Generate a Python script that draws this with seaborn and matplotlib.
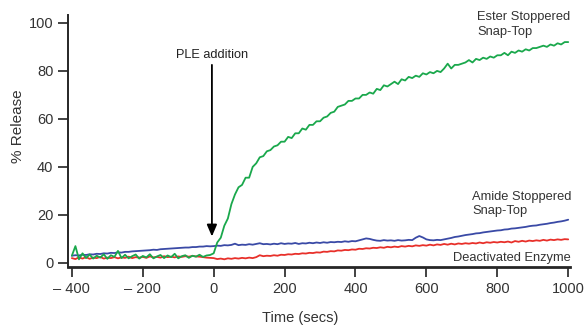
import numpy as np
import pandas as pd
import matplotlib
matplotlib.use("Agg")
import matplotlib.pyplot as plt
import seaborn as sns

time_s = list(range(-400, 1001, 10))

ester = [3.0, 7.0, 1.5, 4.0, 2.0, 3.5, 1.8, 3.0, 2.2, 3.6,
         1.7, 3.2, 2.5, 5.0, 2.0, 3.4, 1.9, 2.8, 3.5, 1.8,
         2.9, 2.3, 3.6, 1.9, 2.7, 3.3, 2.0, 3.1, 2.4, 3.8,
         1.9, 2.8, 3.2, 2.1, 3.0, 2.6, 3.4, 2.5, 3.1, 3.3,
         4.0, 8.5, 10.5, 15.5, 18.5, 24.5, 28.5, 31.5, 32.5, 35.5,
         35.5, 40.0, 41.5, 44.0, 44.5, 46.5, 47.0, 48.5, 49.0, 50.5,
         50.5, 52.5, 52.0, 54.0, 54.0, 56.0, 55.5, 57.5, 57.5, 59.0,
         59.0, 60.5, 61.0, 62.5, 63.0, 65.0, 65.5, 66.0, 67.5, 67.5,
         68.5, 68.5, 70.0, 70.0, 71.0, 70.5, 72.5, 72.0, 74.0, 73.5,
         74.5, 75.5, 74.5, 76.5, 76.0, 77.5, 77.0, 78.0, 77.5, 79.0,
         78.5, 79.5, 79.0, 80.0, 79.5, 81.0, 83.0, 81.0, 82.5, 82.5,
         83.0, 83.5, 84.5, 83.5, 85.0, 84.5, 85.5, 85.0, 86.0, 85.5,
         86.5, 86.5, 87.5, 86.5, 88.0, 87.5, 88.5, 88.0, 89.0, 88.5,
         89.5, 89.5, 90.0, 90.5, 90.0, 91.0, 90.5, 91.5, 91.0, 92.0,
         92.0]

amide = [3.0, 3.2, 3.1, 3.4, 3.3, 3.6, 3.5, 3.8, 3.7, 4.0,
         3.9, 4.2, 4.1, 4.4, 4.3, 4.6, 4.6, 4.8, 4.9, 5.0,
         5.1, 5.2, 5.3, 5.5, 5.4, 5.7, 5.8, 5.9, 6.0, 6.1,
         6.2, 6.3, 6.4, 6.4, 6.6, 6.6, 6.8, 6.8, 7.0, 6.9,
         7.0, 7.2, 7.1, 7.4, 7.3, 7.5, 8.0, 7.4, 7.6, 7.5,
         7.8, 7.6, 7.9, 8.2, 7.8, 7.9, 7.7, 8.0, 7.8, 8.2,
         7.9, 8.1, 8.0, 8.3, 7.9, 8.2, 8.1, 8.4, 8.2, 8.5,
         8.3, 8.6, 8.4, 8.7, 8.6, 8.8, 8.7, 9.0, 8.8, 9.1,
         9.0, 9.4, 9.8, 10.2, 10.0, 9.6, 9.3, 9.2, 9.5, 9.3,
         9.4, 9.2, 9.5, 9.3, 9.4, 9.6, 9.5, 10.5, 11.2, 10.6,
         9.8, 9.5, 9.4, 9.6, 9.5, 9.8, 10.1, 10.4, 10.8, 11.0,
         11.3, 11.6, 11.8, 12.0, 12.3, 12.4, 12.7, 12.9, 13.1, 13.3,
         13.5, 13.6, 13.9, 14.0, 14.3, 14.4, 14.6, 14.8, 15.0, 15.3,
         15.5, 15.6, 15.9, 16.1, 16.3, 16.6, 16.8, 17.1, 17.3, 17.6,
         18.0]

deactivated = [2.0, 1.6, 2.3, 1.8, 2.4, 1.7, 2.2, 2.0, 2.5, 1.8,
               2.2, 2.0, 2.4, 1.9, 2.3, 2.1, 2.6, 2.0, 2.4, 2.2,
               2.5, 2.1, 2.7, 2.3, 2.5, 2.2, 2.8, 2.4, 2.6, 2.3,
               2.7, 2.5, 2.8, 2.6, 2.9, 2.7, 2.6, 2.4, 2.2, 2.1,
               2.0, 1.6, 1.8, 1.5, 1.9, 1.7, 2.0, 1.8, 2.1, 1.9,
               2.2, 2.0, 2.4, 3.2, 2.8, 3.0, 2.9, 3.2, 3.0, 3.4,
               3.3, 3.6, 3.5, 3.8, 3.7, 4.0, 3.9, 4.2, 4.1, 4.4,
               4.3, 4.7, 4.6, 4.9, 4.8, 5.2, 5.1, 5.4, 5.3, 5.6,
               5.5, 5.9, 5.8, 6.1, 6.0, 6.3, 6.2, 6.5, 6.3, 6.7,
               6.5, 6.8, 6.6, 7.0, 6.8, 7.1, 6.9, 7.3, 7.1, 7.4,
               7.2, 7.6, 7.3, 7.7, 7.5, 7.9, 7.6, 8.0, 7.7, 8.1,
               7.9, 8.2, 8.0, 8.3, 8.1, 8.5, 8.2, 8.6, 8.4, 8.7,
               8.5, 8.8, 8.6, 8.9, 8.5, 9.1, 8.8, 9.2, 8.9, 9.3,
               9.1, 9.4, 9.2, 9.6, 9.3, 9.7, 9.5, 9.8, 9.6, 9.9,
               9.8]

series_names = ["Ester Stoppered Snap-Top", "Amide Stoppered Snap-Top", "Deactivated Enzyme"]
colors = ["#1aa84c", "#3a4aa6", "#e8302a"]

df = pd.concat([
    pd.DataFrame({"t": time_s, "v": ester, "s": series_names[0]}),
    pd.DataFrame({"t": time_s, "v": amide, "s": series_names[1]}),
    pd.DataFrame({"t": time_s, "v": deactivated, "s": series_names[2]}),
])

sns.set_style("ticks")
plt.rcParams["font.family"] = ["Liberation Sans", "DejaVu Sans"]

fig = plt.figure(figsize=(5.84, 3.25), dpi=100)
ax = fig.add_axes([0.1164, 0.1785, 0.8596, 0.7755])

sns.lineplot(data=df, x="t", y="v", hue="s", hue_order=series_names[::-1],
             palette=dict(zip(series_names, colors)), linewidth=1.3,
             legend=False, ax=ax, estimator=None)

ax.set_xlim(-411, 1005)
ax.set_ylim(-1.7, 103.3)
ax.set_xticks([-400, -200, 0, 200, 400, 600, 800, 1000])
ax.set_xticklabels(["\u2013 400", "\u2013 200", "0", "200", "400", "600", "800", "1000"])
ax.set_yticks([0, 20, 40, 60, 80, 100])
ax.tick_params(axis="both", labelsize=10.5, colors="#222222", length=7, width=1.2, direction="out")
for lab in ax.get_xticklabels() + ax.get_yticklabels():
    lab.set_color("#333333")
ax.spines["top"].set_visible(False)
ax.spines["right"].set_visible(False)
ax.spines["left"].set_linewidth(1.4)
ax.spines["bottom"].set_linewidth(2.0)
ax.set_xlabel("Time (secs)", fontsize=10.5, color="#333333")
ax.set_ylabel("% Release", fontsize=11, color="#333333")
ax.xaxis.set_label_coords(0.462, -0.175)
ax.yaxis.set_label_coords(-0.086, 0.56)

ax.annotate("", xy=(-5, 11), xytext=(-5, 82.5),
            arrowprops=dict(arrowstyle="-|>,head_width=0.3,head_length=0.7", color="black", lw=1.3,
                            shrinkA=0, shrinkB=0))
ax.text(-5, 86.7, "PLE addition", ha="center", va="center", fontsize=9.2, color="#222222")
ax.text(743, 99.2, "Ester Stoppered\nSnap-Top", fontsize=9.3, color="#333333", va="center",
        ha="left", linespacing=1.3)
ax.text(729, 24.5, "Amide Stoppered\nSnap-Top", fontsize=9.3, color="#333333", va="center",
        ha="left", linespacing=1.3)
ax.text(1008, 2.0, "Deactivated Enzyme", fontsize=9.3, color="#333333", va="center", ha="right")

fig.savefig("out.png", dpi=100)
